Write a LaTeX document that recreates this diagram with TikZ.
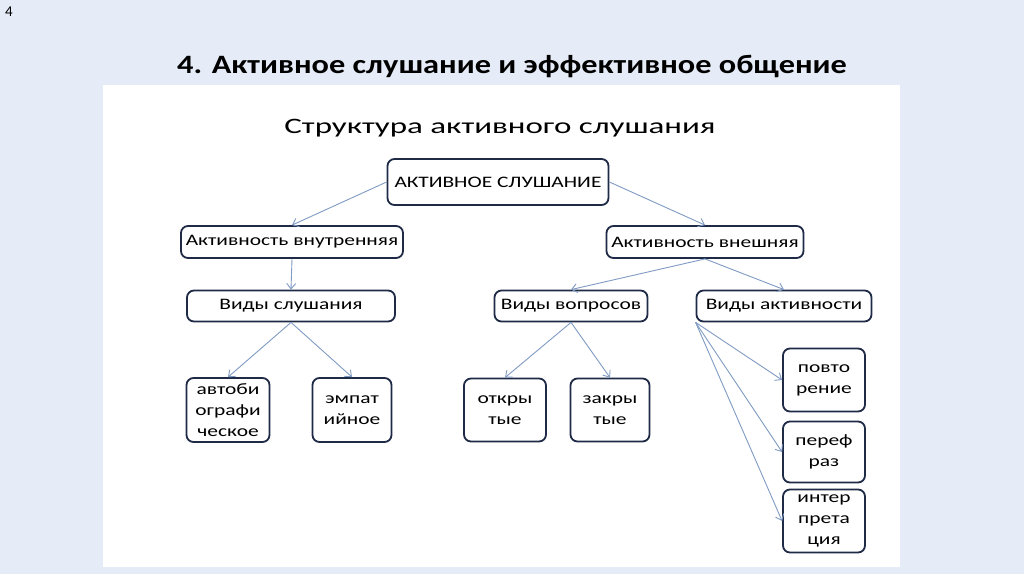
\documentclass[tikz,border=0pt]{standalone}
\usepackage{fontspec}
\setmainfont{Carlito}
\newfontfamily\slidefont{Carlito}[FakeStretch=1.34]
\newfontfamily\headfont{Carlito}[FakeStretch=1.5]
\newfontfamily\titlefont{Carlito}[FakeStretch=1.22]
\usetikzlibrary{arrows.meta,positioning}
\definecolor{slidebg}{RGB}{230,236,247}
\definecolor{boxline}{RGB}{30,42,70}
\definecolor{linkcol}{RGB}{128,155,196}

\begin{document}
\begin{tikzpicture}[x=1pt,y=-1pt,>={Straight Barb[length=5.5pt,width=9pt]},
    box/.style={draw=boxline,line width=1.8pt,rounded corners=7pt,fill=white,
      align=center,inner sep=0pt,font=\slidefont\fontsize{16}{21}\selectfont},
    link/.style={->,linkcol,line width=0.9pt}]
  % ---------------- slide background and white panel ----------------
  \fill[slidebg] (0,0) rectangle (1024,574);
  \fill[white] (103,85) rectangle (900,567);
  \node[font=\fontsize{15}{17}\selectfont] (pagenum) at (9,12) {4};
  \node[font=\titlefont\bfseries\fontsize{26.5}{30}\selectfont] (title) at (512,67)
      {4. Активное слушание и эффективное общение};
  \node[font=\headfont\fontsize{22}{26}\selectfont] (subtitle) at (500,128)
      {Структура активного слушания};
  % ---------------- boxes ----------------
  \node[box,minimum width=221,minimum height=46] (root) at (498,182) {АКТИВНОЕ СЛУШАНИЕ};
  \node[box,minimum width=222,minimum height=32] (inner) at (292,242) {Активность внутренняя};
  \node[box,minimum width=197,minimum height=32] (outer) at (705,242) {Активность внешняя};
  \node[box,minimum width=208,minimum height=31] (listen) at (291,306) {Виды слушания};
  \node[box,minimum width=153,minimum height=31] (quest) at (571,306) {Виды вопросов};
  \node[box,minimum width=175,minimum height=31] (acts) at (784,306) {Виды активности};
  \node[box,minimum width=83,minimum height=64] (autobio) at (228,410) {автоби\\ографи\\ческое};
  \node[box,minimum width=79,minimum height=64] (empath) at (352,410) {эмпат\\ийное};
  \node[box,minimum width=82,minimum height=63] (openq) at (505,410) {откры\\тые};
  \node[box,minimum width=79,minimum height=63] (closedq) at (610,410) {закры\\тые};
  \node[box,minimum width=82,minimum height=63] (repeatn) at (824,380) {повто\\рение};
  \node[box,minimum width=82,minimum height=61] (paraphr) at (824,452) {переф\\раз};
  \node[box,minimum width=82,minimum height=63] (interpr) at (824,521) {интер\\прета\\ция};
  % ---------------- connectors ----------------
  \draw[link] (root.west) -- (inner.north);
  \draw[link] (root.east) -- (outer.north);
  \draw[link] (inner.south) -- (listen.north);
  \draw[link] (outer.south) -- (quest.north);
  \draw[link] (outer.south) -- (acts.north);
  \foreach \kid in {autobio,empath}
    \draw[link] (listen.south) -- (\kid.north);
  \foreach \kid in {openq,closedq}
    \draw[link] (quest.south) -- (\kid.north);
  \foreach \kid in {repeatn,paraphr,interpr}
    \draw[link] (acts.south west) -- (\kid.west);
\end{tikzpicture}
\end{document}
